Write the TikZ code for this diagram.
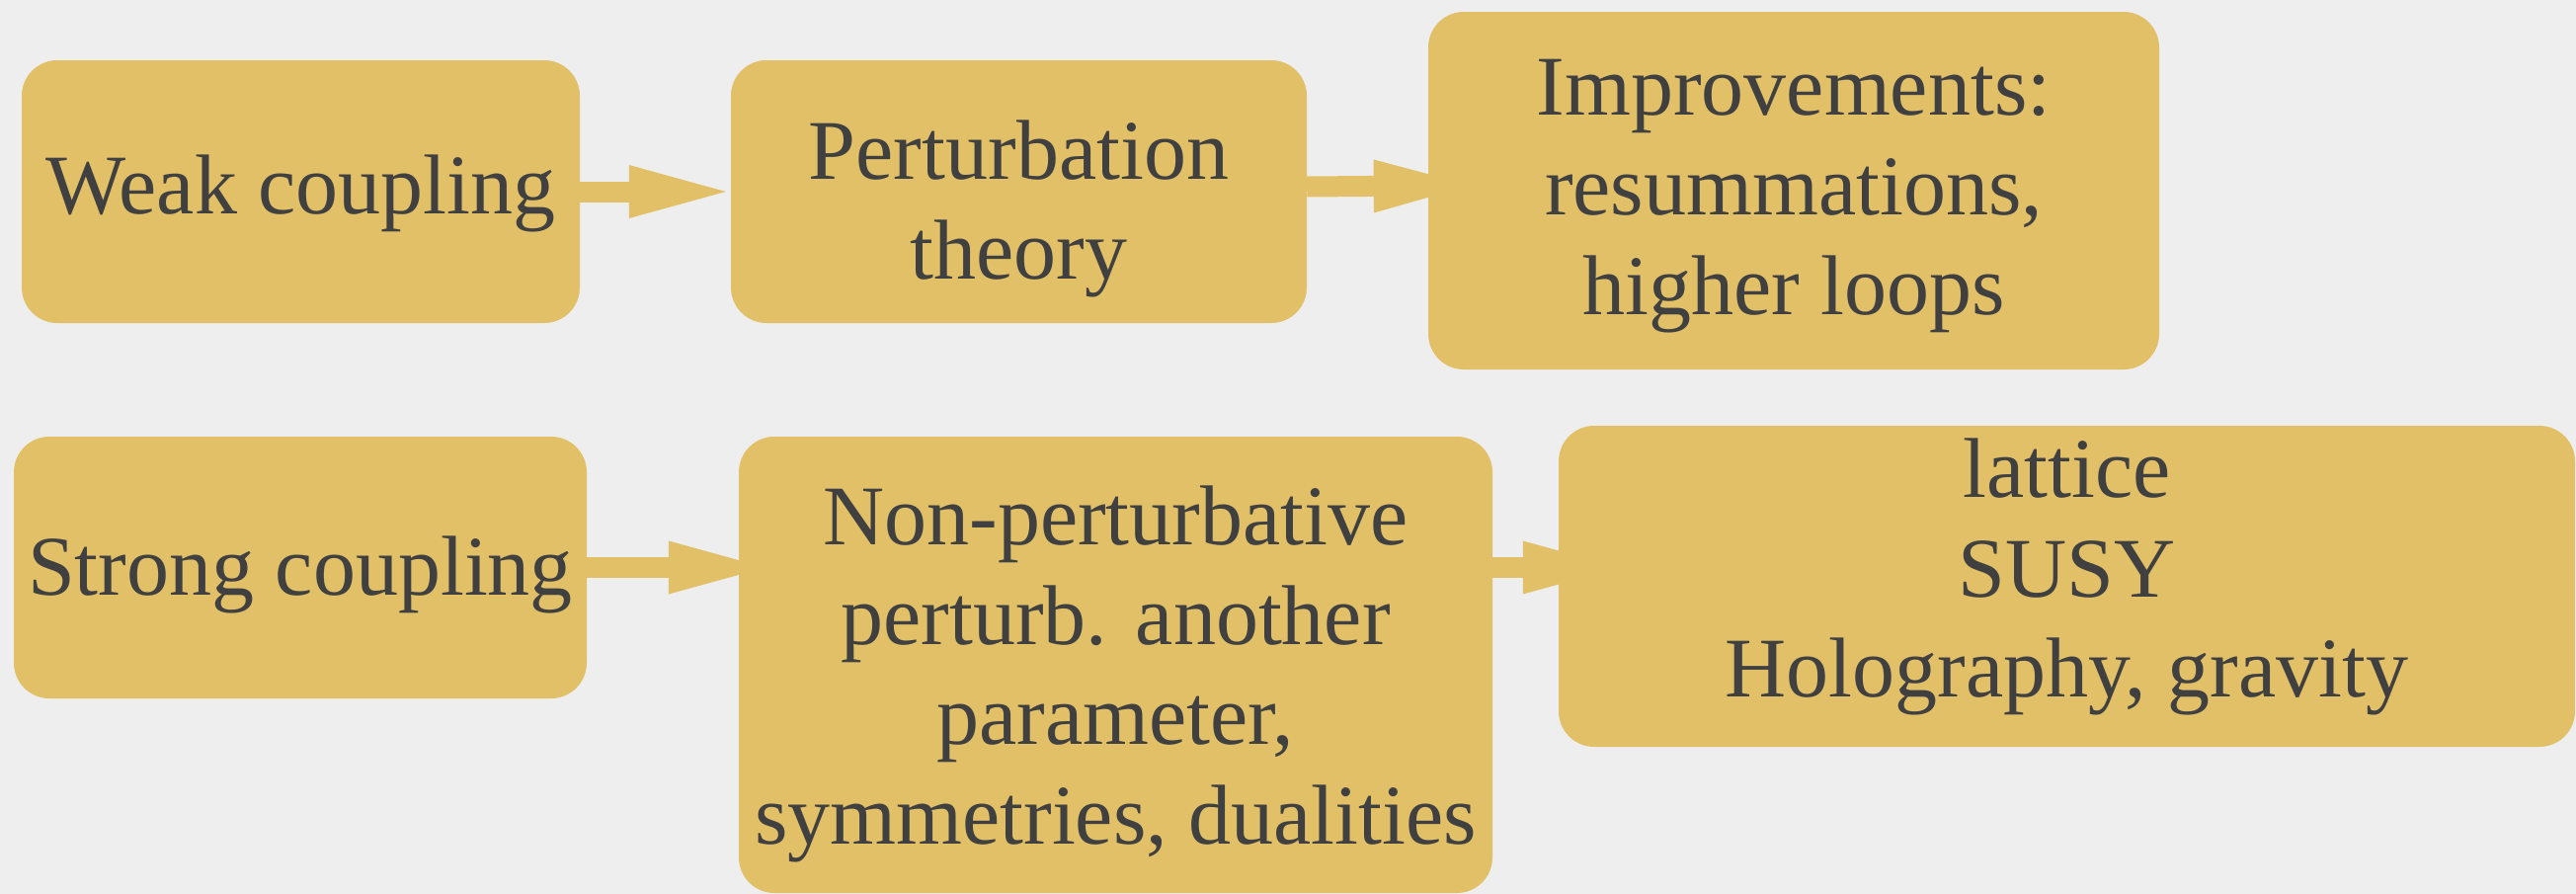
\documentclass[tikz,border=0pt]{standalone}
\usepackage{fontspec}
\setmainfont{Liberation Serif}
\usetikzlibrary{arrows.meta}
\definecolor{paper}{HTML}{EEEEEE}
\definecolor{gold}{HTML}{E1C067}
\definecolor{ink}{HTML}{404040}
\tikzset{
  card/.style={fill=gold, draw=none, rounded corners=36pt, inner sep=0pt,
    align=center, text=ink, font=\fontsize{86}{101}\selectfont},
  flow/.style={draw=gold, line width=21pt,
    -{Triangle[width=54pt,length=98pt,line width=0pt 0 0]}},
}
% invisible struts that move a node's text block down (top) or up (bottom)
\newcommand{\padtop}[1]{\rule{0pt}{#1}}
\newcommand{\padbot}[1]{\rule[-#1]{0pt}{0pt}}
\begin{document}
\begin{tikzpicture}[x=1pt,y=-1pt]
  % paper background
  \fill[paper] (0,0) rectangle (2608,905);
  \useasboundingbox (0,0) rectangle (2608,905);

  % weak-coupling row
  \node[card, minimum width=565pt, minimum height=266pt] (b1) at (304.5,194)
    {\padtop{64pt}Weak coupling};
  \node[card, minimum width=583pt, minimum height=266pt] (b2) at (1031.5,194)
    {\padtop{95pt}Perturbation\\theory};
  \node[card, minimum width=740pt, minimum height=362pt] (b3) at (1816,193)
    {\padtop{67pt}Improvements:\\resummations,\\higher loops};

  % strong-coupling row
  \node[card, minimum width=580pt, minimum height=265pt] (b4) at (304,574.5)
    {\padtop{75pt}Strong coupling};
  \node[card, minimum width=763pt, minimum height=462pt] (b5) at (1129.5,673)
    {\padtop{79pt}Non-perturbative\\perturb. another\\parameter,\\symmetries, dualities};
  \node[card, minimum width=1029pt, minimum height=325pt] (b6) at (2092.5,593.5)
    {lattice\\SUSY\\Holography, gravity\padbot{38pt}};

  % block arrows
  \draw[flow, shorten >=5pt] (b1.east) -- (b2.west);
  \draw[flow, shorten >=-43pt] ([yshift=5pt]b2.east) -- ([yshift=5pt]b3.west);
  \draw[flow, shorten >=-27pt] (b4.east) -- (b5.west |- b4.east);
  \draw[flow, shorten >=-62pt] (b5.east |- b4.east) -- (b6.west |- b4.east);
\end{tikzpicture}
\end{document}
